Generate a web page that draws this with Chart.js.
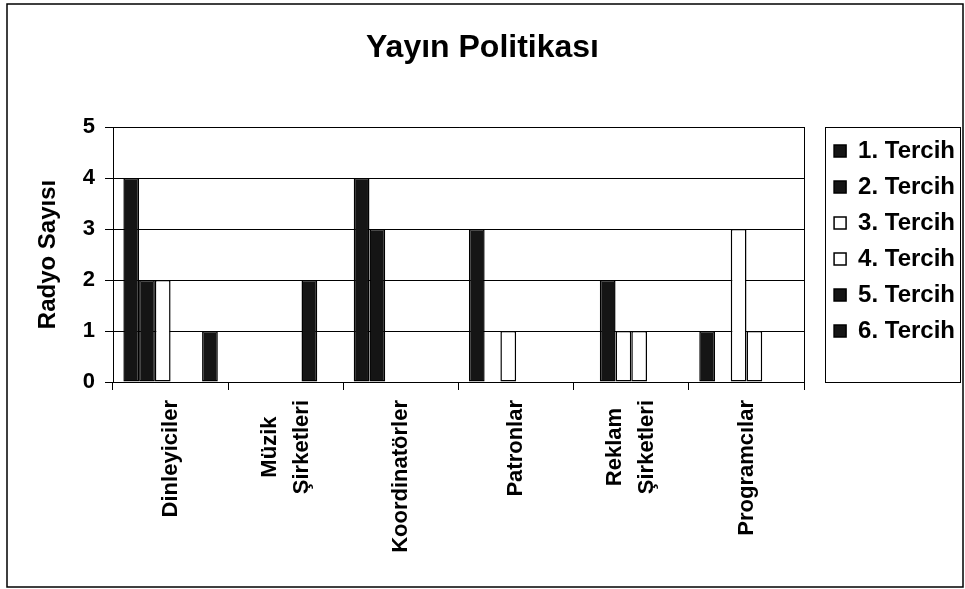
<!DOCTYPE html>
<html lang="tr">
<head>
<meta charset="utf-8">
<title>Yayın Politikası</title>
<script src="https://cdn.jsdelivr.net/npm/chart.js@4/dist/chart.umd.min.js"></script>
<style>
    html, body { margin: 0; padding: 0; background: #fff; }
    #wrap { width: 965px; height: 589px; }
</style>
</head>
<body>
<div id="wrap"><canvas id="chart" width="965" height="589"></canvas></div>
<script>
const categories = ['Dinleyiciler', ['Müzik', 'Şirketleri'], 'Koordinatörler', 'Patronlar', ['Reklam', 'Şirketleri'], 'Programcılar'];
const seriesNames = ['1. Tercih', '2. Tercih', '3. Tercih', '4. Tercih', '5. Tercih', '6. Tercih'];
const tercih1 = [4, 0, 4, 3, 0, 1];
const tercih2 = [2, 0, 3, 0, 2, 0];
const tercih3 = [2, 0, 0, 1, 1, 3];
const tercih4 = [0, 0, 0, 0, 1, 1];
const tercih5 = [0, 2, 0, 0, 0, 0];
const tercih6 = [1, 0, 0, 0, 0, 0];
const yTicks = [0, 1, 2, 3, 4, 5];

const seriesValues = [tercih1, tercih2, tercih3, tercih4, tercih5, tercih6];
const fills = ['#151515', '#151515', '#ffffff', '#ffffff', '#151515', '#151515'];
const FONT = '"Liberation Sans", Arial, sans-serif';

// outer frame + box around the legend
const framePlugin = {
    id: 'frame',
    afterDraw(chart) {
        const ctx = chart.ctx;
        const area = chart.chartArea;
        const lg = chart.legend;
        ctx.save();
        ctx.strokeStyle = '#000';
        ctx.lineWidth = 1.5;
        ctx.strokeRect(7, 4, 956, 583);
        ctx.lineWidth = 1;
        const left = Math.round(lg.left) + 3.5;
        const right = chart.width - 4.5;
        ctx.strokeRect(left, Math.round(area.top) + 0.5, right - left, Math.round(area.bottom - area.top));
        ctx.restore();
    }
};

// two-line category labels: centre the block on the tick and centre the lines on each other
const labelShiftPlugin = {
    id: 'labelShift',
    beforeDraw(chart) {
        const ctx = chart.ctx;
        const items = chart.scales.x.getLabelItems();
        items.forEach(item => {
            if (Array.isArray(item.label) && !item.shifted) {
                ctx.save();
                ctx.font = item.font.string;
                const longest = Math.max(...item.label.map(t => ctx.measureText(t).width));
                ctx.restore();
                item.options.translation[0] -= item.font.lineHeight / 2;
                item.options.translation[1] += longest / 2;
                item.options.textAlign = 'center';
                item.shifted = true;
            }
        });
    }
};

const datasets = seriesNames.map((name, i) => ({
    label: name,
    data: seriesValues[i],
    backgroundColor: fills[i],
    borderColor: '#000',
    borderWidth: 1.5,
    borderSkipped: false,
    categoryPercentage: 0.82,
    barPercentage: 1.0
}));

new Chart(document.getElementById('chart'), {
    type: 'bar',
    data: { labels: categories, datasets },
    plugins: [framePlugin, labelShiftPlugin],
    options: {
        responsive: false,
        animation: false,
        layout: { padding: 0 },
        scales: {
            x: {
                grid: { display: true, drawOnChartArea: false, drawTicks: true, tickLength: 8, color: '#000' },
                border: { color: '#000', width: 1 },
                ticks: {
                    color: '#000',
                    minRotation: 90,
                    maxRotation: 90,
                    padding: 10,
                    font: { family: FONT, size: 22, weight: 'bold', lineHeight: 1.45 }
                },
                afterFit(scale) { scale.height = 207; }
            },
            y: {
                min: 0,
                max: 5,
                afterBuildTicks(scale) { scale.ticks = yTicks.map(v => ({ value: v })); },
                grid: { color: '#000', tickLength: 8, lineWidth: 1 },
                border: { color: '#000', width: 1 },
                ticks: {
                    color: '#000',
                    padding: 10,
                    font: { family: FONT, size: 22, weight: 'bold' }
                },
                title: {
                    display: true,
                    text: 'Radyo Sayısı',
                    color: '#000',
                    padding: { top: 34, bottom: 0 },
                    font: { family: FONT, size: 24, weight: 'bold' }
                },
                afterFit(scale) { scale.width = 113; }
            },
            edge: {
                type: 'linear',
                position: 'right',
                grid: { display: false },
                border: { display: true, color: '#000', width: 1 },
                ticks: { display: false },
                afterFit(scale) { scale.width = 18; }
            }
        },
        plugins: {
            title: {
                display: true,
                text: 'Yayın Politikası',
                color: '#000',
                padding: { top: 29, bottom: 59.6 },
                font: { family: FONT, size: 32, weight: 'bold' }
            },
            legend: {
                position: 'right',
                align: 'start',
                fullSize: false,
                labels: {
                    color: '#000',
                    boxWidth: 12,
                    boxHeight: 12,
                    padding: 12,
                    font: { family: FONT, size: 24, weight: 'bold' }
                }
            },
            tooltip: { enabled: false }
        }
    }
});
</script>
</body>
</html>
